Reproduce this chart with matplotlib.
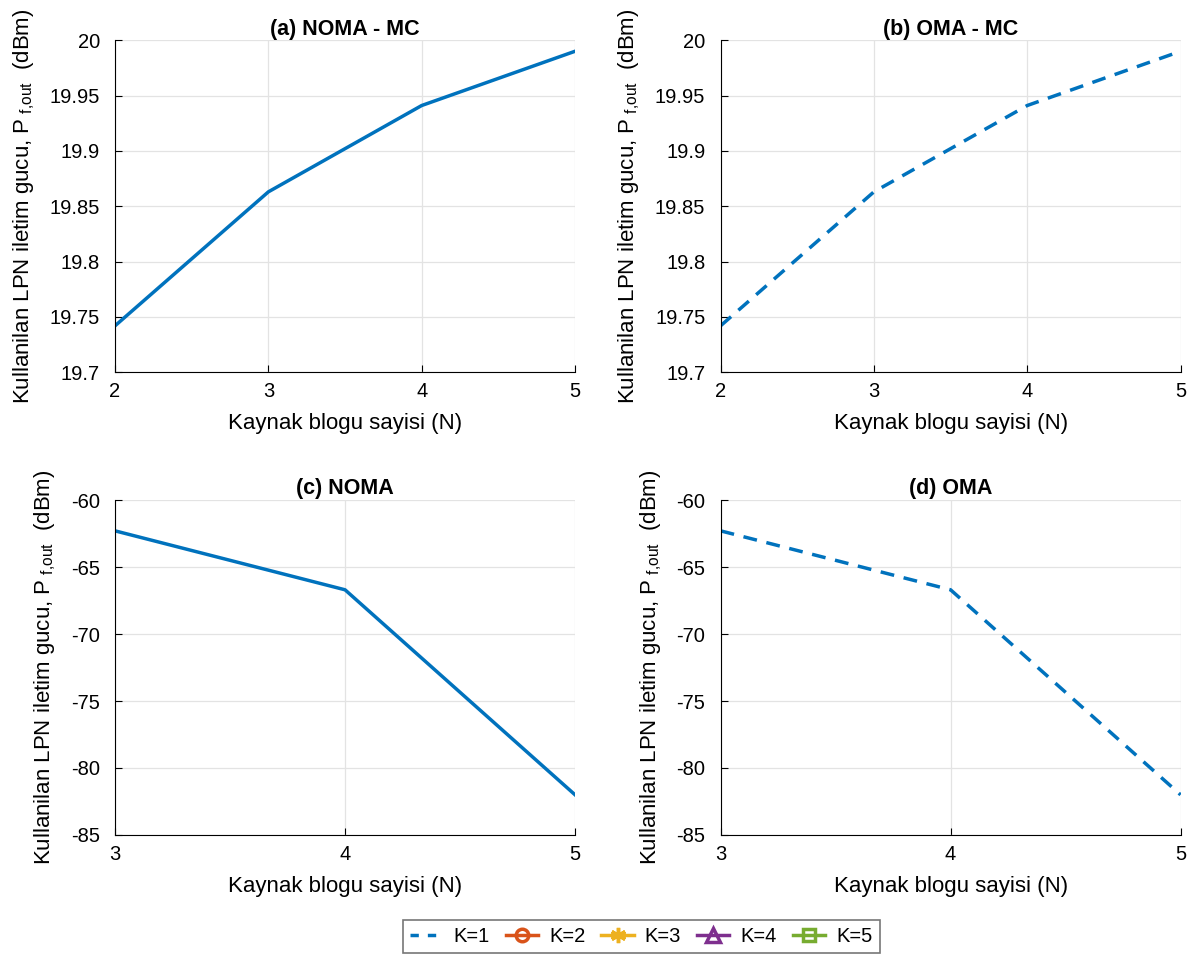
import matplotlib
matplotlib.use('Agg')
import matplotlib.pyplot as plt

plt.rcParams['font.family'] = ['Liberation Sans', 'DejaVu Sans']
plt.rcParams['mathtext.fontset'] = 'custom'
plt.rcParams['mathtext.rm'] = 'Liberation Sans'
plt.rcParams['axes.unicode_minus'] = False

# data
n_mc = [2, 3, 4, 5]
p_noma_mc = [19.742, 19.863, 19.941, 19.990]
p_oma_mc = [19.742, 19.863, 19.941, 19.990]

n_lpn = [3, 4, 5]
p_noma = [-62.3, -66.7, -82.0]
p_oma = [-62.3, -66.7, -82.0]

titles = ['(a) NOMA - MC', '(b) OMA - MC', '(c) NOMA', '(d) OMA']
legend_labels = ['K=1', 'K=2', 'K=3', 'K=4', 'K=5']

blue = '#0072BD'
ylabel = r'Kullanilan LPN iletim gucu, P$_{\ \rm f{,}out}$  (dBm)'
xlabel = 'Kaynak blogu sayisi (N)'

fig = plt.figure(figsize=(12.01, 9.57), dpi=100)
pos = [[0.0958, 0.611, 0.383, 0.347],
       [0.600, 0.611, 0.383, 0.347],
       [0.0958, 0.1275, 0.383, 0.350],
       [0.600, 0.1275, 0.383, 0.350]]
axs = [fig.add_axes(p) for p in pos]

series = [(n_mc, p_noma_mc, '-'), (n_mc, p_oma_mc, '--'),
          (n_lpn, p_noma, '-'), (n_lpn, p_oma, '--')]

for ax, (x, y, ls), t in zip(axs, series, titles):
    if ls == '--':
        ax.plot(x, y, color=blue, lw=2.5, ls='--', dashes=(4, 2.8))
    else:
        ax.plot(x, y, color=blue, lw=2.5)
    ax.set_title(t, fontsize=15.5, fontweight='bold', pad=4)
    ax.set_xlabel(xlabel, fontsize=16, labelpad=9)
    ax.set_ylabel(ylabel, fontsize=16, labelpad=9)
    ax.grid(True, color='#e3e3e3', lw=0.9)
    ax.set_axisbelow(True)
    ax.spines['top'].set_visible(False)
    ax.spines['right'].set_visible(False)
    ax.tick_params(direction='in', labelsize=14.5, length=5)
    ax.tick_params(axis='y', pad=11)
    ax.tick_params(axis='x', pad=7)

for ax in axs[:2]:
    ax.set_xlim(2, 5)
    ax.set_ylim(19.7, 20)
    ax.set_xticks([2, 3, 4, 5])
    ax.set_yticks([19.7, 19.75, 19.8, 19.85, 19.9, 19.95, 20])
    ax.set_yticklabels(['19.7', '19.75', '19.8', '19.85', '19.9', '19.95', '20'])
for ax in axs[2:]:
    ax.set_xlim(3, 5)
    ax.set_ylim(-85, -60)
    ax.set_xticks([3, 4, 5])
    ax.set_yticks([-85, -80, -75, -70, -65, -60])

# legend entries (only K=1 has data on the chart)
h1, = axs[1].plot([], [], color=blue, lw=2.5, ls='--', dashes=(2.4, 2.6))
h2, = axs[1].plot([], [], color='#D95319', lw=2.5, marker='o', ms=9, mfc='none', mew=2.5)
h3, = axs[1].plot([], [], color='#EDB120', lw=2.5, marker=(6, 2, 0), ms=11, mew=2.5)
h4, = axs[1].plot([], [], color='#7E2F8E', lw=2.5, marker='^', ms=10, mfc='none', mew=2.5)
h5, = axs[1].plot([], [], color='#77AC30', lw=2.5, marker='s', ms=8, mfc='none', mew=2.5)

leg = fig.legend([h1, h2, h3, h4, h5], legend_labels, loc='center',
                 bbox_to_anchor=(0.534, 0.021), ncol=5, fontsize=14.5,
                 handlelength=1.6, columnspacing=0.8, handletextpad=0.55,
                 fancybox=False, edgecolor='#555555', borderpad=0.35)
leg.get_frame().set_linewidth(1.2)

plt.savefig('out.png', dpi=100)
plt.close()
